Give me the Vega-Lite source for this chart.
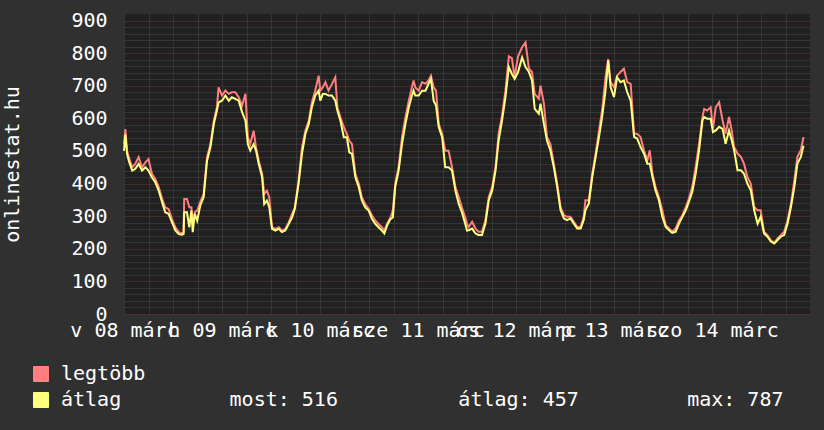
{
  "$schema": "https://vega.github.io/schema/vega-lite/v6.json",
  "width": 686,
  "height": 300,
  "autosize": "none",
  "padding": {"left": 124, "top": 14, "right": 14, "bottom": 116},
  "background": "#303030",
  "config": {
    "view": {"fill": "#202020", "stroke": null},
    "axis": {"labelFont": "DejaVu Sans Mono", "labelFontSize": 20, "labelColor": "#ffffff", "titleFont": "DejaVu Sans Mono", "titleFontSize": 20, "titleFontWeight": "normal", "titleColor": "#ffffff", "domain": false, "ticks": false}
  },
  "data": {"values": [
    {"t": "2015-03-08T12:00Z", "legtöbb": 520, "átlag": 500},
    {"t": "2015-03-08T12:20Z", "legtöbb": 567, "átlag": 550},
    {"t": "2015-03-08T12:45Z", "legtöbb": 501, "átlag": 491},
    {"t": "2015-03-08T13:10Z", "legtöbb": 481, "átlag": 470},
    {"t": "2015-03-08T14:00Z", "legtöbb": 450, "átlag": 440},
    {"t": "2015-03-08T14:45Z", "legtöbb": 460, "átlag": 445},
    {"t": "2015-03-08T15:35Z", "legtöbb": 481, "átlag": 460},
    {"t": "2015-03-08T16:25Z", "legtöbb": 450, "átlag": 440},
    {"t": "2015-03-08T17:15Z", "legtöbb": 465, "átlag": 450},
    {"t": "2015-03-08T18:00Z", "legtöbb": 475, "átlag": 440},
    {"t": "2015-03-08T18:50Z", "legtöbb": 430, "átlag": 419},
    {"t": "2015-03-08T19:40Z", "legtöbb": 414, "átlag": 404},
    {"t": "2015-03-08T20:30Z", "legtöbb": 389, "átlag": 378},
    {"t": "2015-03-08T21:20Z", "legtöbb": 353, "átlag": 343},
    {"t": "2015-03-08T22:05Z", "legtöbb": 327, "átlag": 312},
    {"t": "2015-03-08T22:55Z", "legtöbb": 322, "átlag": 307},
    {"t": "2015-03-08T23:45Z", "legtöbb": 291, "átlag": 281},
    {"t": "2015-03-09T00:35Z", "legtöbb": 266, "átlag": 256},
    {"t": "2015-03-09T01:25Z", "legtöbb": 251, "átlag": 245},
    {"t": "2015-03-09T02:10Z", "legtöbb": 247, "átlag": 243},
    {"t": "2015-03-09T02:35Z", "legtöbb": 250, "átlag": 245},
    {"t": "2015-03-09T02:45Z", "legtöbb": 353, "átlag": 312},
    {"t": "2015-03-09T03:25Z", "legtöbb": 353, "átlag": 312},
    {"t": "2015-03-09T04:00Z", "legtöbb": 327, "átlag": 266},
    {"t": "2015-03-09T04:30Z", "legtöbb": 327, "átlag": 317},
    {"t": "2015-03-09T04:50Z", "legtöbb": 276, "átlag": 251},
    {"t": "2015-03-09T05:20Z", "legtöbb": 312, "átlag": 307},
    {"t": "2015-03-09T05:55Z", "legtöbb": 317, "átlag": 286},
    {"t": "2015-03-09T06:40Z", "legtöbb": 343, "átlag": 332},
    {"t": "2015-03-09T07:30Z", "legtöbb": 368, "átlag": 358},
    {"t": "2015-03-09T08:20Z", "legtöbb": 481, "átlag": 470},
    {"t": "2015-03-09T09:10Z", "legtöbb": 521, "átlag": 511},
    {"t": "2015-03-09T10:00Z", "legtöbb": 593, "átlag": 583},
    {"t": "2015-03-09T10:45Z", "legtöbb": 634, "átlag": 624},
    {"t": "2015-03-09T11:10Z", "legtöbb": 695, "átlag": 649},
    {"t": "2015-03-09T12:00Z", "legtöbb": 670, "átlag": 654},
    {"t": "2015-03-09T12:50Z", "legtöbb": 685, "átlag": 670},
    {"t": "2015-03-09T13:40Z", "legtöbb": 675, "átlag": 654},
    {"t": "2015-03-09T14:25Z", "legtöbb": 680, "átlag": 665},
    {"t": "2015-03-09T15:15Z", "legtöbb": 680, "átlag": 660},
    {"t": "2015-03-09T16:05Z", "legtöbb": 665, "átlag": 654},
    {"t": "2015-03-09T16:55Z", "legtöbb": 639, "átlag": 619},
    {"t": "2015-03-09T17:45Z", "legtöbb": 675, "átlag": 593},
    {"t": "2015-03-09T18:20Z", "legtöbb": 542, "átlag": 521},
    {"t": "2015-03-09T18:55Z", "legtöbb": 521, "átlag": 501},
    {"t": "2015-03-09T19:45Z", "legtöbb": 562, "átlag": 521},
    {"t": "2015-03-09T20:20Z", "legtöbb": 511, "átlag": 501},
    {"t": "2015-03-09T21:00Z", "legtöbb": 470, "átlag": 460},
    {"t": "2015-03-09T21:50Z", "legtöbb": 430, "átlag": 419},
    {"t": "2015-03-09T22:20Z", "legtöbb": 368, "átlag": 337},
    {"t": "2015-03-09T23:00Z", "legtöbb": 378, "átlag": 348},
    {"t": "2015-03-09T23:35Z", "legtöbb": 358, "átlag": 327},
    {"t": "2015-03-10T00:15Z", "legtöbb": 266, "átlag": 261},
    {"t": "2015-03-10T01:05Z", "legtöbb": 261, "átlag": 256},
    {"t": "2015-03-10T01:55Z", "legtöbb": 266, "átlag": 261},
    {"t": "2015-03-10T02:40Z", "legtöbb": 256, "átlag": 251},
    {"t": "2015-03-10T03:30Z", "legtöbb": 261, "átlag": 256},
    {"t": "2015-03-10T04:20Z", "legtöbb": 281, "átlag": 276},
    {"t": "2015-03-10T05:10Z", "legtöbb": 307, "átlag": 296},
    {"t": "2015-03-10T05:50Z", "legtöbb": 327, "átlag": 322},
    {"t": "2015-03-10T06:45Z", "legtöbb": 409, "átlag": 399},
    {"t": "2015-03-10T07:35Z", "legtöbb": 511, "átlag": 491},
    {"t": "2015-03-10T08:25Z", "legtöbb": 562, "átlag": 552},
    {"t": "2015-03-10T09:15Z", "legtöbb": 593, "átlag": 583},
    {"t": "2015-03-10T10:00Z", "legtöbb": 649, "átlag": 634},
    {"t": "2015-03-10T10:50Z", "legtöbb": 685, "átlag": 670},
    {"t": "2015-03-10T11:40Z", "legtöbb": 731, "átlag": 685},
    {"t": "2015-03-10T12:05Z", "legtöbb": 685, "átlag": 654},
    {"t": "2015-03-10T12:40Z", "legtöbb": 695, "átlag": 675},
    {"t": "2015-03-10T13:20Z", "legtöbb": 711, "átlag": 675},
    {"t": "2015-03-10T14:05Z", "legtöbb": 685, "átlag": 670},
    {"t": "2015-03-10T14:55Z", "legtöbb": 705, "átlag": 670},
    {"t": "2015-03-10T15:45Z", "legtöbb": 726, "átlag": 654},
    {"t": "2015-03-10T16:15Z", "legtöbb": 634, "átlag": 624},
    {"t": "2015-03-10T17:00Z", "legtöbb": 603, "átlag": 593},
    {"t": "2015-03-10T17:50Z", "legtöbb": 573, "átlag": 542},
    {"t": "2015-03-10T18:35Z", "legtöbb": 552, "átlag": 542},
    {"t": "2015-03-10T19:10Z", "legtöbb": 532, "átlag": 496},
    {"t": "2015-03-10T19:50Z", "legtöbb": 521, "átlag": 491},
    {"t": "2015-03-10T20:40Z", "legtöbb": 430, "átlag": 419},
    {"t": "2015-03-10T21:30Z", "legtöbb": 399, "átlag": 389},
    {"t": "2015-03-10T22:15Z", "legtöbb": 358, "átlag": 348},
    {"t": "2015-03-10T23:05Z", "legtöbb": 337, "átlag": 327},
    {"t": "2015-03-10T23:55Z", "legtöbb": 322, "átlag": 317},
    {"t": "2015-03-11T00:45Z", "legtöbb": 302, "átlag": 291},
    {"t": "2015-03-11T01:35Z", "legtöbb": 286, "átlag": 276},
    {"t": "2015-03-11T02:20Z", "legtöbb": 276, "átlag": 266},
    {"t": "2015-03-11T03:10Z", "legtöbb": 266, "átlag": 256},
    {"t": "2015-03-11T03:45Z", "legtöbb": 256, "átlag": 247},
    {"t": "2015-03-11T04:25Z", "legtöbb": 276, "átlag": 271},
    {"t": "2015-03-11T05:15Z", "legtöbb": 296, "átlag": 291},
    {"t": "2015-03-11T05:50Z", "legtöbb": 317, "átlag": 296},
    {"t": "2015-03-11T06:25Z", "legtöbb": 399, "átlag": 389},
    {"t": "2015-03-11T07:15Z", "legtöbb": 450, "átlag": 440},
    {"t": "2015-03-11T08:05Z", "legtöbb": 542, "átlag": 521},
    {"t": "2015-03-11T08:55Z", "legtöbb": 603, "átlag": 583},
    {"t": "2015-03-11T09:45Z", "legtöbb": 654, "átlag": 634},
    {"t": "2015-03-11T10:30Z", "legtöbb": 695, "átlag": 670},
    {"t": "2015-03-11T10:55Z", "legtöbb": 716, "átlag": 685},
    {"t": "2015-03-11T11:20Z", "legtöbb": 695, "átlag": 670},
    {"t": "2015-03-11T12:10Z", "legtöbb": 685, "átlag": 670},
    {"t": "2015-03-11T13:00Z", "legtöbb": 711, "átlag": 685},
    {"t": "2015-03-11T13:50Z", "legtöbb": 706, "átlag": 685},
    {"t": "2015-03-11T14:35Z", "legtöbb": 716, "átlag": 706},
    {"t": "2015-03-11T15:10Z", "legtöbb": 731, "átlag": 721},
    {"t": "2015-03-11T15:50Z", "legtöbb": 695, "átlag": 654},
    {"t": "2015-03-11T16:25Z", "legtöbb": 685, "átlag": 639},
    {"t": "2015-03-11T17:05Z", "legtöbb": 583, "átlag": 573},
    {"t": "2015-03-11T17:55Z", "legtöbb": 552, "átlag": 542},
    {"t": "2015-03-11T18:40Z", "legtöbb": 501, "átlag": 450},
    {"t": "2015-03-11T19:30Z", "legtöbb": 501, "átlag": 450},
    {"t": "2015-03-11T20:20Z", "legtöbb": 450, "átlag": 440},
    {"t": "2015-03-11T21:10Z", "legtöbb": 389, "átlag": 378},
    {"t": "2015-03-11T22:00Z", "legtöbb": 358, "átlag": 337},
    {"t": "2015-03-11T22:45Z", "legtöbb": 327, "átlag": 312},
    {"t": "2015-03-11T23:35Z", "legtöbb": 296, "átlag": 276},
    {"t": "2015-03-12T00:00Z", "legtöbb": 276, "átlag": 256},
    {"t": "2015-03-12T00:25Z", "legtöbb": 267, "átlag": 257},
    {"t": "2015-03-12T01:15Z", "legtöbb": 283, "átlag": 262},
    {"t": "2015-03-12T02:05Z", "legtöbb": 262, "átlag": 247},
    {"t": "2015-03-12T02:50Z", "legtöbb": 252, "átlag": 242},
    {"t": "2015-03-12T03:40Z", "legtöbb": 252, "átlag": 242},
    {"t": "2015-03-12T04:30Z", "legtöbb": 287, "átlag": 277},
    {"t": "2015-03-12T05:20Z", "legtöbb": 359, "átlag": 349},
    {"t": "2015-03-12T06:10Z", "legtöbb": 390, "átlag": 379},
    {"t": "2015-03-12T07:00Z", "legtöbb": 451, "átlag": 441},
    {"t": "2015-03-12T07:45Z", "legtöbb": 553, "átlag": 532},
    {"t": "2015-03-12T08:35Z", "legtöbb": 609, "átlag": 594},
    {"t": "2015-03-12T09:25Z", "legtöbb": 685, "átlag": 665},
    {"t": "2015-03-12T10:15Z", "legtöbb": 790, "átlag": 757},
    {"t": "2015-03-12T11:00Z", "legtöbb": 785, "átlag": 736},
    {"t": "2015-03-12T11:40Z", "legtöbb": 726, "átlag": 721},
    {"t": "2015-03-12T12:30Z", "legtöbb": 790, "átlag": 742},
    {"t": "2015-03-12T13:30Z", "legtöbb": 818, "átlag": 787},
    {"t": "2015-03-12T14:20Z", "legtöbb": 833, "átlag": 757},
    {"t": "2015-03-12T15:10Z", "legtöbb": 752, "átlag": 742},
    {"t": "2015-03-12T15:55Z", "legtöbb": 742, "átlag": 716},
    {"t": "2015-03-12T16:35Z", "legtöbb": 675, "átlag": 629},
    {"t": "2015-03-12T17:35Z", "legtöbb": 660, "átlag": 614},
    {"t": "2015-03-12T18:00Z", "legtöbb": 700, "átlag": 645},
    {"t": "2015-03-12T18:50Z", "legtöbb": 645, "átlag": 583},
    {"t": "2015-03-12T19:35Z", "legtöbb": 543, "átlag": 532},
    {"t": "2015-03-12T20:25Z", "legtöbb": 522, "átlag": 502},
    {"t": "2015-03-12T21:15Z", "legtöbb": 461, "átlag": 451},
    {"t": "2015-03-12T22:05Z", "legtöbb": 400, "átlag": 390},
    {"t": "2015-03-12T22:55Z", "legtöbb": 328, "átlag": 318},
    {"t": "2015-03-12T23:45Z", "legtöbb": 303, "átlag": 293},
    {"t": "2015-03-13T00:30Z", "legtöbb": 298, "átlag": 288},
    {"t": "2015-03-13T01:20Z", "legtöbb": 298, "átlag": 293},
    {"t": "2015-03-13T02:10Z", "legtöbb": 283, "átlag": 277},
    {"t": "2015-03-13T03:00Z", "legtöbb": 267, "átlag": 262},
    {"t": "2015-03-13T03:50Z", "legtöbb": 267, "átlag": 262},
    {"t": "2015-03-13T04:35Z", "legtöbb": 298, "átlag": 288},
    {"t": "2015-03-13T05:00Z", "legtöbb": 349, "átlag": 318},
    {"t": "2015-03-13T05:50Z", "legtöbb": 349, "átlag": 339},
    {"t": "2015-03-13T06:40Z", "legtöbb": 430, "átlag": 420},
    {"t": "2015-03-13T07:30Z", "legtöbb": 492, "átlag": 482},
    {"t": "2015-03-13T08:20Z", "legtöbb": 563, "átlag": 543},
    {"t": "2015-03-13T09:05Z", "legtöbb": 624, "átlag": 604},
    {"t": "2015-03-13T09:55Z", "legtöbb": 726, "átlag": 685},
    {"t": "2015-03-13T10:35Z", "legtöbb": 782, "átlag": 777},
    {"t": "2015-03-13T11:10Z", "legtöbb": 711, "átlag": 696},
    {"t": "2015-03-13T12:00Z", "legtöbb": 696, "átlag": 665},
    {"t": "2015-03-13T12:45Z", "legtöbb": 731, "átlag": 726},
    {"t": "2015-03-13T13:35Z", "legtöbb": 742, "átlag": 711},
    {"t": "2015-03-13T14:25Z", "legtöbb": 752, "átlag": 716},
    {"t": "2015-03-13T15:15Z", "legtöbb": 711, "átlag": 680},
    {"t": "2015-03-13T16:05Z", "legtöbb": 706, "átlag": 654},
    {"t": "2015-03-13T16:55Z", "legtöbb": 553, "átlag": 543},
    {"t": "2015-03-13T17:40Z", "legtöbb": 553, "átlag": 538},
    {"t": "2015-03-13T18:30Z", "legtöbb": 543, "átlag": 512},
    {"t": "2015-03-13T19:20Z", "legtöbb": 502, "átlag": 492},
    {"t": "2015-03-13T20:10Z", "legtöbb": 471, "átlag": 461},
    {"t": "2015-03-13T20:45Z", "legtöbb": 502, "átlag": 461},
    {"t": "2015-03-13T21:25Z", "legtöbb": 430, "átlag": 420},
    {"t": "2015-03-13T22:10Z", "legtöbb": 390, "átlag": 379},
    {"t": "2015-03-13T23:00Z", "legtöbb": 359, "átlag": 349},
    {"t": "2015-03-13T23:50Z", "legtöbb": 318, "átlag": 298},
    {"t": "2015-03-14T00:40Z", "legtöbb": 272, "átlag": 267},
    {"t": "2015-03-14T01:30Z", "legtöbb": 262, "átlag": 257},
    {"t": "2015-03-14T02:15Z", "legtöbb": 252, "átlag": 249},
    {"t": "2015-03-14T03:05Z", "legtöbb": 262, "átlag": 252},
    {"t": "2015-03-14T03:55Z", "legtöbb": 287, "átlag": 277},
    {"t": "2015-03-14T04:45Z", "legtöbb": 303, "átlag": 298},
    {"t": "2015-03-14T05:35Z", "legtöbb": 328, "átlag": 318},
    {"t": "2015-03-14T06:20Z", "legtöbb": 354, "átlag": 344},
    {"t": "2015-03-14T07:10Z", "legtöbb": 390, "átlag": 374},
    {"t": "2015-03-14T08:00Z", "legtöbb": 451, "átlag": 430},
    {"t": "2015-03-14T08:50Z", "legtöbb": 522, "átlag": 502},
    {"t": "2015-03-14T09:40Z", "legtöbb": 604, "átlag": 594},
    {"t": "2015-03-14T10:05Z", "legtöbb": 629, "átlag": 604},
    {"t": "2015-03-14T10:50Z", "legtöbb": 624, "átlag": 599},
    {"t": "2015-03-14T11:40Z", "legtöbb": 634, "átlag": 599},
    {"t": "2015-03-14T12:15Z", "legtöbb": 569, "átlag": 558},
    {"t": "2015-03-14T12:55Z", "legtöbb": 634, "átlag": 563},
    {"t": "2015-03-14T13:45Z", "legtöbb": 649, "átlag": 574},
    {"t": "2015-03-14T14:35Z", "legtöbb": 594, "átlag": 568},
    {"t": "2015-03-14T15:20Z", "legtöbb": 553, "átlag": 522},
    {"t": "2015-03-14T16:10Z", "legtöbb": 604, "átlag": 563},
    {"t": "2015-03-14T16:50Z", "legtöbb": 563, "átlag": 532},
    {"t": "2015-03-14T17:25Z", "legtöbb": 512, "átlag": 502},
    {"t": "2015-03-14T18:15Z", "legtöbb": 492, "átlag": 441},
    {"t": "2015-03-14T19:05Z", "legtöbb": 482, "átlag": 441},
    {"t": "2015-03-14T19:50Z", "legtöbb": 461, "átlag": 430},
    {"t": "2015-03-14T20:40Z", "legtöbb": 420, "átlag": 400},
    {"t": "2015-03-14T21:30Z", "legtöbb": 400, "átlag": 379},
    {"t": "2015-03-14T22:20Z", "legtöbb": 328, "átlag": 318},
    {"t": "2015-03-14T23:10Z", "legtöbb": 318, "átlag": 277},
    {"t": "2015-03-14T23:55Z", "legtöbb": 318, "átlag": 298},
    {"t": "2015-03-15T00:45Z", "legtöbb": 252, "átlag": 247},
    {"t": "2015-03-15T01:35Z", "legtöbb": 242, "átlag": 237},
    {"t": "2015-03-15T02:25Z", "legtöbb": 226, "átlag": 222},
    {"t": "2015-03-15T03:15Z", "legtöbb": 218, "átlag": 216},
    {"t": "2015-03-15T04:00Z", "legtöbb": 231, "átlag": 226},
    {"t": "2015-03-15T04:50Z", "legtöbb": 242, "átlag": 237},
    {"t": "2015-03-15T05:40Z", "legtöbb": 252, "átlag": 242},
    {"t": "2015-03-15T06:30Z", "legtöbb": 287, "átlag": 277},
    {"t": "2015-03-15T07:20Z", "legtöbb": 338, "átlag": 328},
    {"t": "2015-03-15T08:10Z", "legtöbb": 410, "átlag": 390},
    {"t": "2015-03-15T08:55Z", "legtöbb": 482, "átlag": 461},
    {"t": "2015-03-15T09:45Z", "legtöbb": 502, "átlag": 482},
    {"t": "2015-03-15T10:25Z", "legtöbb": 543, "átlag": 516}
  ]},
  "layer": [
    {
      "mark": {"type": "line", "strokeWidth": 2},
      "encoding": {
        "x": {"field": "t", "type": "temporal",
          "scale": {"type": "utc", "domain": [{"year": 2015, "month": 3, "date": 8, "hours": 12, "utc": true}, {"year": 2015, "month": 3, "date": 15, "hours": 12, "utc": true}]},
          "axis": {"orient": "bottom", "title": null, "grid": true, "gridColor": "#4a4a4a", "gridDash": [1, 1], "gridWidth": 1, "labelOverlap": false, "labelFlush": false, "labelBound": false, "labelPadding": 6,
            "values": [
              {"year": 2015, "month": 3, "date": 8, "hours": 12, "utc": true},
              {"year": 2015, "month": 3, "date": 8, "hours": 18, "utc": true},
              {"year": 2015, "month": 3, "date": 9, "hours": 6, "utc": true},
              {"year": 2015, "month": 3, "date": 9, "hours": 12, "utc": true},
              {"year": 2015, "month": 3, "date": 9, "hours": 18, "utc": true},
              {"year": 2015, "month": 3, "date": 10, "hours": 6, "utc": true},
              {"year": 2015, "month": 3, "date": 10, "hours": 12, "utc": true},
              {"year": 2015, "month": 3, "date": 10, "hours": 18, "utc": true},
              {"year": 2015, "month": 3, "date": 11, "hours": 6, "utc": true},
              {"year": 2015, "month": 3, "date": 11, "hours": 12, "utc": true},
              {"year": 2015, "month": 3, "date": 11, "hours": 18, "utc": true},
              {"year": 2015, "month": 3, "date": 12, "hours": 6, "utc": true},
              {"year": 2015, "month": 3, "date": 12, "hours": 12, "utc": true},
              {"year": 2015, "month": 3, "date": 12, "hours": 18, "utc": true},
              {"year": 2015, "month": 3, "date": 13, "hours": 6, "utc": true},
              {"year": 2015, "month": 3, "date": 13, "hours": 12, "utc": true},
              {"year": 2015, "month": 3, "date": 13, "hours": 18, "utc": true},
              {"year": 2015, "month": 3, "date": 14, "hours": 6, "utc": true},
              {"year": 2015, "month": 3, "date": 14, "hours": 12, "utc": true},
              {"year": 2015, "month": 3, "date": 14, "hours": 18, "utc": true},
              {"year": 2015, "month": 3, "date": 15, "hours": 6, "utc": true}
            ],
            "labelExpr": "utchours(datum.value) != 12 ? '' : (utcday(datum.value) == 0 ? 'v' : utcday(datum.value) == 1 ? 'h' : utcday(datum.value) == 2 ? 'k' : utcday(datum.value) == 3 ? 'sze' : utcday(datum.value) == 4 ? 'cs' : utcday(datum.value) == 5 ? 'p' : 'szo') + ' ' + utcFormat(datum.value, '%d') + ' márc'"}},
        "y": {"field": "legtöbb", "type": "quantitative",
          "scale": {"domain": [0, 920], "nice": false},
          "axis": {"orient": "left", "title": null, "labels": false, "grid": true, "gridColor": "#4a4a4a", "gridDash": [1, 1], "values": [20, 40, 60, 80, 120, 140, 160, 180, 220, 240, 260, 280, 320, 340, 360, 380, 420, 440, 460, 480, 520, 540, 560, 580, 620, 640, 660, 680, 720, 740, 760, 780, 820, 840, 860, 880]}},
        "color": {"datum": "legtöbb", "type": "nominal",
          "scale": {"domain": ["legtöbb", "átlag"], "range": ["#ff7f7f", "#ffff7f"]},
          "legend": {"orient": "none", "legendX": -93, "legendY": 350, "direction": "vertical", "title": null, "padding": 0, "symbolType": "square", "symbolSize": 225, "symbolStrokeWidth": 1, "labelFont": "DejaVu Sans Mono", "labelFontSize": 20, "labelColor": "#ffffff", "labelOffset": 10, "rowPadding": 6, "labelLimit": 1000,
            "labelExpr": "datum.label == 'átlag' ? 'átlag\u00a0\u00a0\u00a0\u00a0\u00a0\u00a0\u00a0\u00a0\u00a0most: 516\u00a0\u00a0\u00a0\u00a0\u00a0\u00a0\u00a0\u00a0\u00a0\u00a0átlag: 457\u00a0\u00a0\u00a0\u00a0\u00a0\u00a0\u00a0\u00a0\u00a0max: 787' : datum.label",
            "encode": {"symbols": {"update": {"fill": {"scale": "color", "field": "value"}, "stroke": {"value": "#000000"}, "strokeWidth": {"value": 1}, "opacity": {"value": 1}}}}}}
      }
    },
    {
      "mark": {"type": "line", "strokeWidth": 2},
      "encoding": {
        "x": {"field": "t", "type": "temporal",
          "axis": {"orient": "bottom", "title": null, "labels": false, "grid": true, "gridColor": "#733030", "gridDash": [1, 1], "gridWidth": 1,
            "values": [
              {"year": 2015, "month": 3, "date": 9, "utc": true},
              {"year": 2015, "month": 3, "date": 10, "utc": true},
              {"year": 2015, "month": 3, "date": 11, "utc": true},
              {"year": 2015, "month": 3, "date": 12, "utc": true},
              {"year": 2015, "month": 3, "date": 13, "utc": true},
              {"year": 2015, "month": 3, "date": 14, "utc": true},
              {"year": 2015, "month": 3, "date": 15, "utc": true}
            ]}},
        "y": {"field": "átlag", "type": "quantitative",
          "scale": {"domain": [0, 920], "nice": false},
          "axis": {"orient": "left", "title": "onlinestat.hu", "titlePadding": 48, "labelPadding": 17, "grid": true, "gridColor": "#733030", "gridDash": [1, 1], "values": [0, 100, 200, 300, 400, 500, 600, 700, 800, 900]}},
        "color": {"datum": "átlag", "type": "nominal"}
      }
    }
  ],
  "resolve": {"axis": {"x": "independent", "y": "independent"}}
}
